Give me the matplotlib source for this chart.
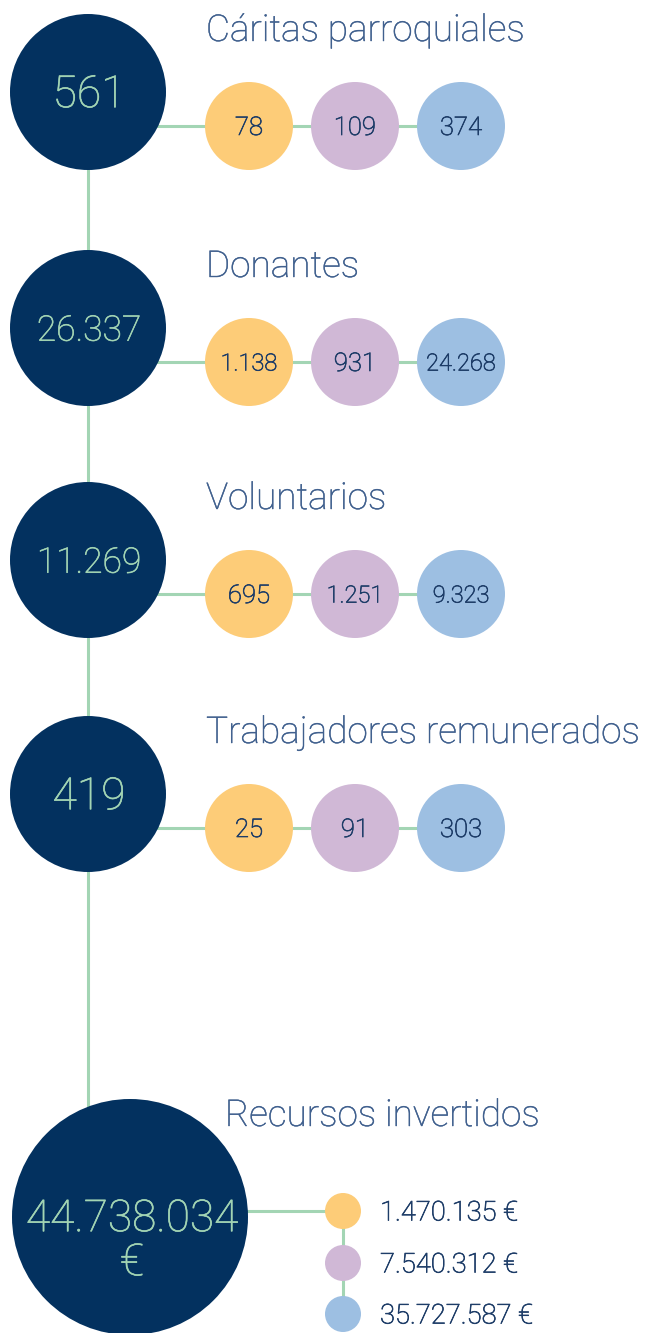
import matplotlib
matplotlib.use("Agg")
import matplotlib.pyplot as plt
from matplotlib.patches import Circle
import matplotlib.patheffects as pe

# ---- data ----
categories = ["Cáritas parroquiales", "Donantes", "Voluntarios", "Trabajadores remunerados"]
totals = [561, 26337, 11269, 419]
sub_a = [78, 1138, 695, 25]
sub_b = [109, 931, 1251, 91]
sub_c = [374, 24268, 9323, 303]
resources_title = "Recursos invertidos"
resources_total = 44738034
resources_parts = [1470135, 7540312, 35727587]

# ---- style ----
NAVY = "#03315f"
GREEN = "#a3d5b4"
TITLE = "#40608e"
NUM = "#1e3d68"
SUBCOL = ["#fdcc78", "#d0b8d6", "#9dbfe2"]
FONT = "Roboto"

def fmt(v):
    return f"{v:,}".replace(",", ".")

def thick(color, w):
    return [pe.withStroke(linewidth=w, foreground=color)]

W, H = 646, 1333
fig = plt.figure(figsize=(W / 100, H / 100), dpi=100)
ax = fig.add_axes([0, 0, 1, 1])
ax.set_xlim(0, W)
ax.set_ylim(H, 0)
ax.axis("off")

big_x = 88
big_r = 78
row_y = [92, 328, 560, 794]
sub_dy = 34
sub_x = [249, 355, 461]
sub_r = 44
title_dy = -61

# spine line
ax.plot([big_x, big_x], [row_y[0], 1150], color=GREEN, lw=2.2, zorder=1)

for i, cat in enumerate(categories):
    cy = row_y[i]
    sy = cy + sub_dy
    ax.plot([big_x, sub_x[-1]], [sy, sy], color=GREEN, lw=2.2, zorder=1)
    ax.add_patch(Circle((big_x, cy), big_r, color=NAVY, zorder=2, lw=0))
    t = fmt(totals[i])
    ax.text(big_x + 1, cy + 3, t, ha="center", va="center", color=GREEN,
            fontsize=32 if len(t) <= 3 else 25.5, family=FONT, fontweight="light",
            path_effects=thick(GREEN, 0.4), zorder=3)
    ax.text(206, cy + title_dy, cat, ha="left", va="center", color=TITLE,
            fontsize=26.6, family=FONT, fontweight="light",
            path_effects=thick(TITLE, 0.3), zorder=3)
    for j, vals in enumerate([sub_a, sub_b, sub_c]):
        ax.add_patch(Circle((sub_x[j], sy), sub_r, color=SUBCOL[j], zorder=2, lw=0))
        s = fmt(vals[i])
        ax.text(sub_x[j], sy + 2, s, ha="center", va="center", color=NUM,
                fontsize=18.5 if len(s) <= 3 else 17, family=FONT, fontweight="light",
                path_effects=thick(NUM, 0.5), zorder=3)

# resources
rc_x, rc_y, rc_r = 130, 1217, 118
leg_x = 343
leg_y = [1211, 1263, 1314]
leg_r = 18
ax.plot([rc_x, leg_x], [leg_y[0], leg_y[0]], color=GREEN, lw=2.2, zorder=1)
ax.plot([leg_x, leg_x], [leg_y[0], leg_y[-1]], color=GREEN, lw=2.2, zorder=1)
ax.add_patch(Circle((rc_x, rc_y), rc_r, color=NAVY, zorder=2, lw=0))
ax.text(rc_x + 2, rc_y + 2, fmt(resources_total), ha="center", va="center",
        color=GREEN, fontsize=31.8, family=FONT, fontweight="light",
        path_effects=thick(GREEN, 0.4), zorder=3)
ax.text(rc_x + 2, rc_y + 46, "€", ha="center", va="center",
        color=GREEN, fontsize=31.8, family=FONT, fontweight="light",
        path_effects=thick(GREEN, 0.4), zorder=3)
ax.text(225, 1116, resources_title, ha="left", va="center", color=TITLE,
        fontsize=26.6, family=FONT, fontweight="light",
        path_effects=thick(TITLE, 0.3), zorder=3)
for j, v in enumerate(resources_parts):
    ax.add_patch(Circle((leg_x, leg_y[j]), leg_r, color=SUBCOL[j], zorder=2, lw=0))
    ax.text(380, leg_y[j] + 2, fmt(v) + " €", ha="left", va="center", color=NUM,
            fontsize=19.7, family=FONT, fontweight="light",
            path_effects=thick(NUM, 0.5), zorder=3)

fig.savefig("out.png", dpi=100, facecolor="white")
